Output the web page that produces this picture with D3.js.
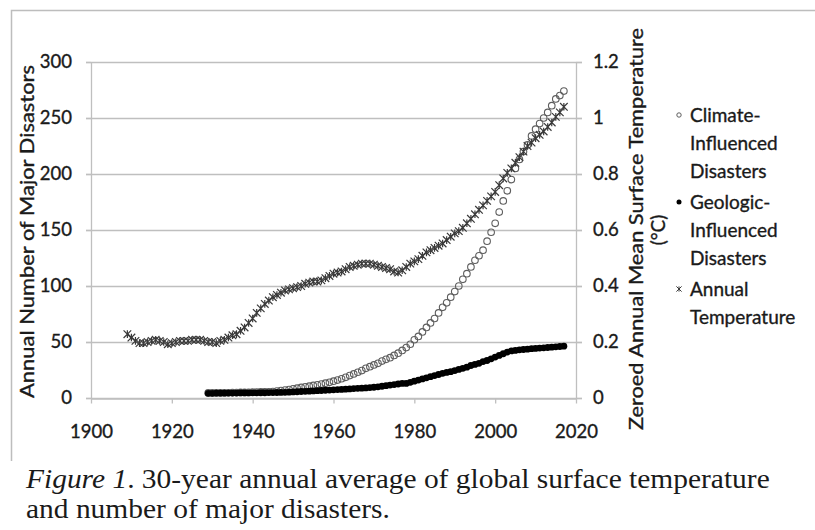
<!DOCTYPE html>
<html>
<head>
<meta charset="utf-8">
<script src="https://cdn.jsdelivr.net/npm/d3@7"></script>
<style>
  html, body { margin: 0; padding: 0; background: #fff; }
  svg { display: block; }
</style>
</head>
<body>
<svg id="chart" width="815" height="530"></svg>
<script>
// ---- data ----
const tempStartYear = 1909;
const temperature = [
  0.228, 0.216, 0.204, 0.196, 0.196, 0.200, 0.204, 0.208, 0.204, 0.200, // 1909-1918
  0.192, 0.196, 0.200, 0.204, 0.204, 0.204, 0.208, 0.208, 0.208, 0.204, // 1919-1928
  0.200, 0.200, 0.196, 0.204, 0.208, 0.216, 0.224, 0.228, 0.240, 0.252, // 1929-1938
  0.268, 0.284, 0.304, 0.320, 0.336, 0.348, 0.360, 0.368, 0.376, 0.384, // 1939-1948
  0.388, 0.392, 0.396, 0.400, 0.408, 0.412, 0.416, 0.416, 0.420, 0.428, // 1949-1958
  0.436, 0.444, 0.448, 0.452, 0.460, 0.468, 0.472, 0.476, 0.480, 0.480, // 1959-1968
  0.480, 0.476, 0.472, 0.468, 0.464, 0.460, 0.452, 0.448, 0.456, 0.468, // 1969-1978
  0.480, 0.488, 0.496, 0.508, 0.520, 0.528, 0.536, 0.544, 0.552, 0.564, // 1979-1988
  0.576, 0.588, 0.596, 0.608, 0.624, 0.640, 0.656, 0.672, 0.688, 0.704, // 1989-1998
  0.720, 0.736, 0.760, 0.784, 0.804, 0.820, 0.840, 0.860, 0.880, 0.900, // 1999-2008
  0.912, 0.928, 0.940, 0.952, 0.968, 0.984, 1.004, 1.020, 1.040         // 2009-2017
];
const disasterStartYear = 1929;
const climateDisasters = [
  4.5, 4.5, 4.6, 4.6, 4.7, 4.7, 4.8, 4.9, 5.0, 5.0,        // 1929-1938
  5.1, 5.2, 5.3, 5.4, 5.5, 5.6, 5.8, 6.2, 6.6, 7.1,        // 1939-1948
  7.6, 8.2, 8.8, 9.4, 10.0, 10.6, 11.2, 11.8, 12.4, 13.2,  // 1949-1958
  14.0, 15.0, 16.0, 17.2, 18.5, 20.0, 21.5, 23.0, 24.5, 26.5, // 1959-1968
  28, 29.5, 31, 33, 34.5, 36, 38, 40, 42.5, 45,            // 1969-1978
  48, 52, 55, 59, 63, 67, 71, 76, 81, 85,                  // 1979-1988
  90, 95, 100, 106, 111, 117, 123, 127, 132, 140,          // 1989-1998
  148, 156, 166, 176, 185, 195, 205, 213, 220, 226,        // 1999-2008
  234, 240, 245, 250, 255, 261, 267, 270, 274              // 2009-2017
];
const geologicDisasters = [
  4.2, 4.2, 4.3, 4.3, 4.3, 4.4, 4.4, 4.4, 4.5, 4.5,        // 1929-1938
  4.5, 4.6, 4.6, 4.7, 4.7, 4.8, 4.8, 4.9, 5.0, 5.1,        // 1939-1948
  5.2, 5.4, 5.6, 5.8, 6.0, 6.1, 6.3, 6.5, 6.7, 6.9,        // 1949-1958
  7.1, 7.3, 7.5, 7.7, 7.9, 8.1, 8.4, 8.6, 8.8, 9.0,        // 1959-1968
  9.3, 9.6, 10.0, 10.5, 11.0, 11.5, 12.0, 12.5, 13.0, 13.0, // 1969-1978
  14, 15, 16, 17, 18, 19, 20, 21, 22, 22.8,                // 1979-1988
  23.5, 24.5, 25.5, 26.5, 27.5, 29, 30, 31, 32.5, 33.5,    // 1989-1998
  35, 36.5, 38, 39.5, 41, 42, 42.5, 43, 43.3, 43.6,        // 1999-2008
  44, 44.3, 44.6, 44.8, 45.1, 45.4, 45.7, 46, 46.3         // 2009-2017
];
const xTicks = [1900, 1920, 1940, 1960, 1980, 2000, 2020];
const leftTicks = [0, 50, 100, 150, 200, 250, 300];
const rightTicks = [0, 0.2, 0.4, 0.6, 0.8, 1, 1.2];
const leftTitle = "Annual Number of Major Disastors";
const rightTitle = ["Zeroed Annual Mean Surface Temperature", "(°C)"];
const legendItems = [
  { key: "climate", lines: ["Climate-", "Influenced", "Disasters"] },
  { key: "geologic", lines: ["Geologic-", "Influenced", "Disasters"] },
  { key: "temp", lines: ["Annual", "Temperature"] }
];
const captionItalic = "Figure 1";
const captionLine1 = ". 30-year annual average of global surface temperature";
const captionLine2 = "and number of major disasters.";

// ---- drawing ----
const svg = d3.select("#chart");
const FONT = "Lato, 'Open Sans', sans-serif";
const textColor = "#1a1a1a";
const textStroke = 0.35;

svg.append("rect").attr("width", 815).attr("height", 530).attr("fill", "#fff");

// frame
svg.append("path")
  .attr("d", "M11.5,461 L11.5,10.5 L815,10.5")
  .attr("fill", "none").attr("stroke", "#bdbdbd").attr("stroke-width", 1.5);

const x = d3.scaleLinear().domain([1900, 2020]).range([91, 576]);
const yL = d3.scaleLinear().domain([0, 300]).range([398, 62]);
const yR = d3.scaleLinear().domain([0, 1.2]).range([398, 62]);

function sansText(sel, size) {
  return sel.attr("font-family", FONT).attr("font-size", size)
    .attr("fill", textColor).attr("stroke", textColor).attr("stroke-width", textStroke);
}

// gridlines
svg.append("g").selectAll("line").data(leftTicks).join("line")
  .attr("x1", 86).attr("x2", 582)
  .attr("y1", d => Math.round(yL(d)) + 0.5).attr("y2", d => Math.round(yL(d)) + 0.5)
  .attr("stroke", "#bfbfbf").attr("stroke-width", 1.3);

function styleAxis(g) {
  g.select(".domain").attr("stroke", "#bfbfbf").attr("stroke-width", 1.3);
  g.selectAll(".tick line").attr("stroke", "#bfbfbf").attr("stroke-width", 1.3);
  sansText(g.selectAll(".tick text"), 18.5);
}

svg.append("g").attr("transform", "translate(91,0)")
  .call(d3.axisLeft(yL).tickValues(leftTicks).tickSize(5).tickSizeOuter(0).tickPadding(14))
  .call(styleAxis);

svg.append("g").attr("transform", "translate(576,0)")
  .call(d3.axisRight(yR).tickValues(rightTicks).tickSize(6).tickSizeOuter(0).tickPadding(11)
    .tickFormat(d => d === 0 ? "0" : d === 1 ? "1" : d3.format(".1f")(d)))
  .call(styleAxis);

svg.append("g").attr("transform", "translate(0,398.5)")
  .call(d3.axisBottom(x).tickValues(xTicks).tickSize(5).tickSizeOuter(0).tickPadding(21).tickFormat(d3.format("d")))
  .call(styleAxis);

// axis titles
sansText(svg.append("text"), 19)
  .attr("transform", `translate(34,231.5) rotate(-90)`)
  .attr("text-anchor", "middle")
  .attr("textLength", 333).attr("lengthAdjust", "spacingAndGlyphs")
  .text(leftTitle);

sansText(svg.append("text"), 19)
  .attr("transform", `translate(643,229) rotate(-90)`)
  .attr("text-anchor", "middle")
  .attr("textLength", 402).attr("lengthAdjust", "spacingAndGlyphs")
  .text(rightTitle[0]);
sansText(svg.append("text"), 19)
  .attr("transform", `translate(665,230) rotate(-90)`)
  .attr("text-anchor", "middle")
  .text(rightTitle[1]);

// series data objects
const climateData = climateDisasters.map((v, i) => ({ year: disasterStartYear + i, v }));
const geoData = geologicDisasters.map((v, i) => ({ year: disasterStartYear + i, v }));
const tempData = temperature.map((v, i) => ({ year: tempStartYear + i, v }));

// marker helpers
function drawCircle(g, cx, cy, r, w) {
  g.append("circle").attr("cx", cx).attr("cy", cy).attr("r", r)
    .attr("fill", "none").attr("stroke", "#5e5e5e").attr("stroke-width", w || 1.1);
}
function drawDot(g, cx, cy, r) {
  g.append("circle").attr("cx", cx).attr("cy", cy).attr("r", r).attr("fill", "#000");
}
function drawStar(g, cx, cy, s, w) {
  g.append("path")
    .attr("d", `M${cx - s},${cy - s}L${cx + s},${cy + s}M${cx - s},${cy + s}L${cx + s},${cy - s}M${cx},${cy - s}L${cx},${cy + s}`)
    .attr("stroke", "#3a3a3a").attr("stroke-width", w || 1.2).attr("fill", "none");
}

const gClimate = svg.append("g");
climateData.forEach(d => drawCircle(gClimate, x(d.year), yL(d.v), 3.3));
const gGeo = svg.append("g");
geoData.forEach(d => drawDot(gGeo, x(d.year), yL(d.v), 3.4));
const gTemp = svg.append("g");
tempData.forEach(d => drawStar(gTemp, x(d.year), yR(d.v), 3.8));

// legend
const legendX = 679, textX = 690;
let ly = 115;
legendItems.forEach((item) => {
  const g = svg.append("g");
  if (item.key === "climate") drawCircle(g, legendX, ly, 2.2, 1);
  if (item.key === "geologic") drawDot(g, legendX, ly, 2.5);
  if (item.key === "temp") drawStar(g, legendX, ly, 2.6, 1);
  item.lines.forEach((line, j) => {
    sansText(g.append("text"), 19).attr("x", textX).attr("y", ly + j * 28)
      .attr("dy", "0.35em").text(line);
  });
  ly += item.lines.length * 28 + 3;
});

// caption: uniform horizontal condensing for both lines
const SERIF = "'Liberation Serif', 'Times New Roman', serif";
const capG = svg.append("g");
const cap1 = capG.append("text").attr("x", 0).attr("y", 488)
  .attr("font-family", SERIF).attr("font-size", 27.5).attr("fill", "#1a1a1a");
cap1.append("tspan").attr("font-style", "italic").text(captionItalic);
cap1.append("tspan").text(captionLine1);
const cap2 = capG.append("text").attr("x", 0).attr("y", 518)
  .attr("font-family", SERIF).attr("font-size", 27.5).attr("fill", "#1a1a1a")
  .text(captionLine2);
const w1 = cap1.node().getComputedTextLength();
const sx = 744 / w1;
capG.attr("transform", `translate(26,0) scale(${sx},1)`);
</script>
</body>
</html>
